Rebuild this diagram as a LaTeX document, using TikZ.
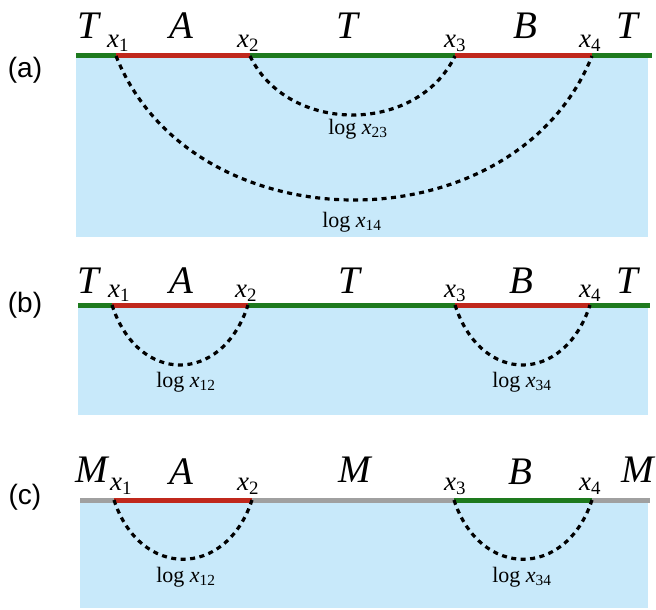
\documentclass[tikz,border=0pt]{standalone}
\usepackage{fontspec}
\setmainfont{Liberation Serif}
\setsansfont{Liberation Sans}
\definecolor{sea}{RGB}{200,233,250}
\definecolor{dgreen}{RGB}{30,122,30}
\definecolor{dred}{RGB}{192,40,28}
\definecolor{mgray}{RGB}{160,160,160}
\tikzset{
  big/.style={font=\fontsize{39}{39}\selectfont\itshape, inner sep=0pt},
  xl/.style={font=\fontsize{27}{27}\selectfont, inner sep=0pt},
  lg/.style={font=\fontsize{22}{22}\selectfont, inner sep=0pt},
  plab/.style={font=\sffamily\fontsize{28}{28}\selectfont, inner sep=0pt},
  seg/.style={line width=5pt},
  base/.style={line width=0.8pt, black},
  arcd/.style={dash pattern=on 5pt off 4.5pt, line width=3.2pt},
}
\newcommand{\xs}[1]{\textit{x}\textsubscript{#1}}
\begin{document}
\begin{tikzpicture}[x=1pt,y=1pt]
\useasboundingbox (0,0) rectangle (656,-610);
% ---------- (a)
\fill[sea] (76,-56) rectangle (648,-237);
\coordinate (aL) at (76,-56);
\coordinate (a1) at (116,-56);
\coordinate (a2) at (250,-56);
\coordinate (a3) at (455,-56);
\coordinate (a4) at (592,-56);
\coordinate (aR) at (652,-56);
\draw[base] (aL) -- (aR);
\draw[seg, dgreen] (aL) -- (a1);
\draw[seg, dred] (a1) -- (a2);
\draw[seg, dgreen] (a2) -- (a3);
\draw[seg, dred] (a3) -- (a4);
\draw[seg, dgreen] (a4) -- (aR);
\draw[arcd] (a2) .. controls +(38,-78.7) and +(-38,-78.7) .. (a3);
\draw[arcd] (a1) .. controls +(77,-192) and +(-77,-192) .. (a4);
\node[lg] (la23) at (358,-129) {log \xs{23}};
\node[lg] (la14) at (352,-222) {log \xs{14}};
\node[plab] (pa) at (25,-70) {(a)};
\node[big] (aT1) at (88,-26) {T};
\node[big] (aA) at (181,-26) {A};
\node[big] (aT2) at (347,-26) {T};
\node[big] (aB) at (525,-26) {B};
\node[big] (aT3) at (627,-26) {T};
\node[xl] (ax1) at (118,-43) {\xs{1}};
\node[xl] (ax2) at (248,-43) {\xs{2}};
\node[xl] (ax3) at (455,-43) {\xs{3}};
\node[xl] (ax4) at (590,-43) {\xs{4}};
% ---------- (b)
\fill[sea] (78,-305) rectangle (648,-415);
\coordinate (bL) at (78,-305);
\coordinate (b1) at (112,-305);
\coordinate (b2) at (248,-305);
\coordinate (b3) at (455,-305);
\coordinate (b4) at (590,-305);
\coordinate (bR) at (650,-305);
\draw[base] (bL) -- (bR);
\draw[seg, dgreen] (bL) -- (b1);
\draw[seg, dred] (b1) -- (b2);
\draw[seg, dgreen] (b2) -- (b3);
\draw[seg, dred] (b3) -- (b4);
\draw[seg, dgreen] (b4) -- (bR);
\draw[arcd] (b1) .. controls +(26,-80) and +(-26,-80) .. (b2);
\draw[arcd] (b3) .. controls +(26,-80) and +(-26,-80) .. (b4);
\node[lg] (lb12) at (186,-382) {log \xs{12}};
\node[lg] (lb34) at (522,-382) {log \xs{34}};
\node[plab] (pb) at (25,-305) {(b)};
\node[big] (bT1) at (88,-281) {T};
\node[big] (bA) at (181,-281) {A};
\node[big] (bT2) at (349,-281) {T};
\node[big] (bB) at (521,-281) {B};
\node[big] (bT3) at (627,-281) {T};
\node[xl] (bx1) at (119,-293) {\xs{1}};
\node[xl] (bx2) at (246,-293) {\xs{2}};
\node[xl] (bx3) at (455,-293) {\xs{3}};
\node[xl] (bx4) at (590,-293) {\xs{4}};
% ---------- (c)
\fill[sea] (80,-500) rectangle (648,-608);
\coordinate (cL) at (80,-500);
\coordinate (c1) at (114,-500);
\coordinate (c2) at (252,-500);
\coordinate (c3) at (454,-500);
\coordinate (c4) at (592,-500);
\coordinate (cR) at (650,-500);
\draw[base] (cL) -- (cR);
\draw[seg, mgray] (cL) -- (c1);
\draw[seg, dred] (c1) -- (c2);
\draw[seg, mgray] (c2) -- (c3);
\draw[seg, dgreen] (c3) -- (c4);
\draw[seg, mgray] (c4) -- (cR);
\draw[arcd] (c1) .. controls +(26,-79) and +(-26,-79) .. (c2);
\draw[arcd] (c3) .. controls +(26,-79) and +(-26,-79) .. (c4);
\node[lg] (lc12) at (186,-577) {log \xs{12}};
\node[lg] (lc34) at (522,-577) {log \xs{34}};
\node[plab] (pc) at (25,-497) {(c)};
\node[big] (cM1) at (92,-470) {M};
\node[big] (cA) at (181,-472) {A};
\node[big] (cM2) at (355,-470) {M};
\node[big] (cB) at (520,-472) {B};
\node[big] (cM3) at (638,-470) {M};
\node[xl] (cx1) at (121,-486) {\xs{1}};
\node[xl] (cx2) at (248,-486) {\xs{2}};
\node[xl] (cx3) at (455,-486) {\xs{3}};
\node[xl] (cx4) at (590,-486) {\xs{4}};
\end{tikzpicture}
\end{document}
